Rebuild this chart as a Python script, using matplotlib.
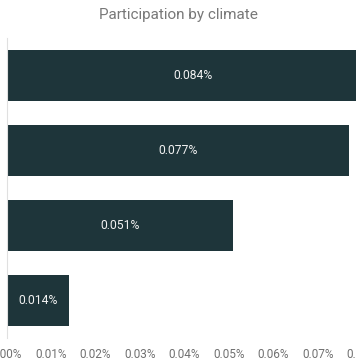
import numpy as np
import matplotlib
matplotlib.use("Agg")
import matplotlib.pyplot as plt
from matplotlib.ticker import FuncFormatter, MultipleLocator

plt.rcParams.update({"font.family": ["Roboto", "DejaVu Sans"]})

climates = ["A", "B", "C", "D"]
participation = [0.084, 0.077, 0.051, 0.014]   # percent
value_labels = ["0.084%", "0.077%", "0.051%", "0.014%"]

W, H = 356, 364
fig = plt.figure(figsize=(W / 100, H / 100), dpi=100)
x0, px_per_unit = 6.5, 4450          # pixels, pixels per 1 percent
xmax = 0.0875
ax = fig.add_axes([x0 / W, 26 / H, xmax * px_per_unit / W, 300 / H])

y = np.arange(len(climates))
ax.barh(y, participation, height=0.667, color="#1e353a")
ax.set_ylim(len(climates) - 0.5, -0.5)
ax.set_xlim(0, xmax)
ax.set_yticks([])

for yi, v, lab in zip(y, participation, value_labels):
    ax.text(v / 2, yi, lab, ha="center", va="center", color="#f2f2f2", fontsize=8.7)

ax.xaxis.set_major_locator(MultipleLocator(0.01))
ax.xaxis.set_major_formatter(FuncFormatter(lambda v, _: f"{v:.2f}%"))
ax.tick_params(axis="x", length=0, pad=7, labelsize=8.5, labelcolor="#707070")
for s in ["top", "right", "bottom"]:
    ax.spines[s].set_visible(False)
ax.spines["left"].set_color("#e0e0e0")
ax.spines["left"].set_linewidth(0.8)

fig.text(0.5, 1 - 15 / H, "Participation by climate", ha="center", va="center",
         fontsize=11, color="#787878")

fig.savefig("out.png", dpi=100)
